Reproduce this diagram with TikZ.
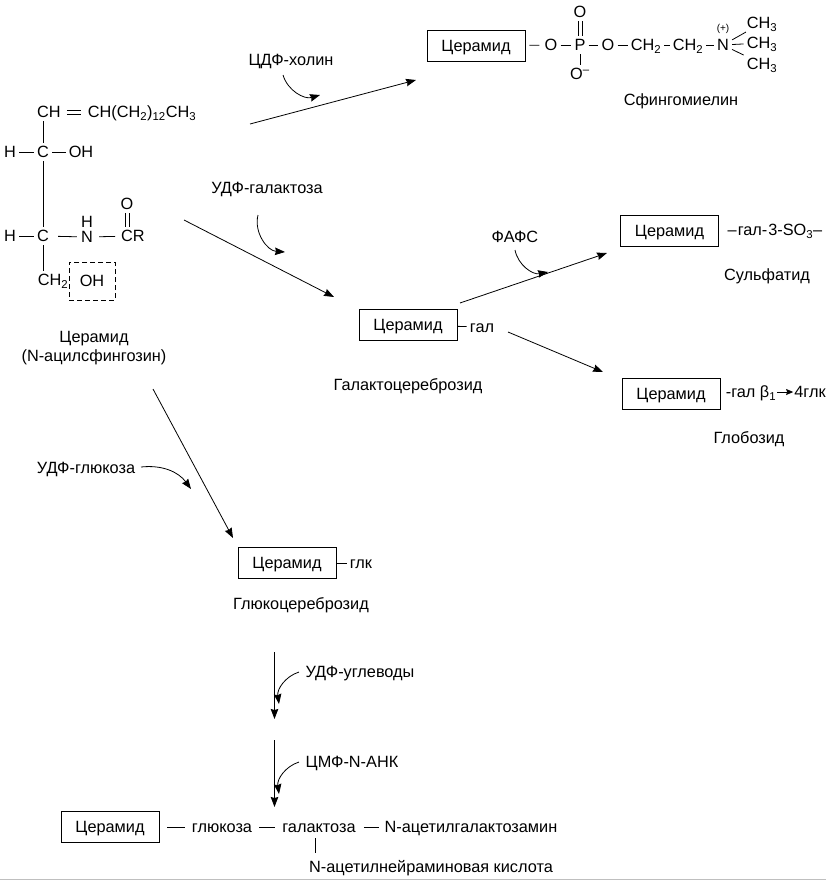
\documentclass[tikz,border=0pt]{standalone}
\usepackage{fontspec}
\setmainfont{Liberation Sans}
\usetikzlibrary{arrows.meta,positioning}
\tikzset{
	lbl/.style={inner sep=3pt,text height=11.7pt,text depth=0pt,font=\fontsize{16.3}{18}\selectfont},
	cerbox/.style={lbl,draw,line width=0.8pt,minimum width=98pt,minimum height=31pt},
	bond/.style={line width=0.8pt},
	arr/.style={line width=0.8pt,-{Stealth[length=10pt,width=7.5pt,inset=1pt]}},
	tinyarr/.style={line width=0.8pt,-{Stealth[length=7pt,width=6pt,inset=1pt]}}
}
\begin{document}
\begin{tikzpicture}[x=1pt,y=-1pt]
		\useasboundingbox (0,0) rectangle (826,881);

		% ceramide formula
		\draw (49,112) node[lbl] (ch) {CH};
		\draw (142,112) node[lbl] (chain) {CH(CH\textsubscript{2})\textsubscript{12}CH\textsubscript{3}};
		\draw (43,152) node[lbl] (c1) {C};
		\draw (10,152) node[lbl] (h1) {H};
		\draw (81,152) node[lbl] (oh1) {OH};
		\draw (43,236) node[lbl] (c2) {C};
		\draw (10,236) node[lbl] (h2) {H};
		\draw (87,237) node[lbl,inner sep=1pt] (n1) {N};
		\draw (87,222) node[lbl,inner sep=1pt] (h3) {H};
		\draw (133,236) node[lbl] (cr) {CR};
		\draw (127,204) node[lbl] (o1) {O};
		\draw (53,280) node[lbl] (ch2) {CH\textsubscript{2}};
		\draw (92,281) node[lbl,draw,dash pattern=on 5pt off 3pt,line width=0.8pt,minimum width=46pt,minimum height=38pt] (oh2) {OH};
		\draw (94,337) node[lbl] (cername) {Церамид};
		\draw (94,356) node[lbl] (cerfull) {(N-ацилсфингозин)};

		\draw[bond,shorten <=3pt,shorten >=4pt] ([yshift=-2pt]ch.east) -- ([yshift=-2pt]chain.west);
		\draw[bond,shorten <=3pt,shorten >=4pt] ([yshift=2pt]ch.east) -- ([yshift=2pt]chain.west);
		\draw[bond] (c1.north) -- (c1.north |- ch.south);
		\draw[bond] (h1) -- (c1);
		\draw[bond] (c1) -- (oh1);
		\draw[bond] (c1.south) -- (c2.north);
		\draw[bond] (h2) -- (c2);
		\draw[bond,shorten <=6pt,shorten >=3pt] (c2) -- (n1);
		\draw[bond,shorten <=5pt,shorten >=3pt] (n1) -- (cr);
		\draw[bond] ([xshift=-2pt]cr.north -| o1) -- ([xshift=-2pt]o1.south);
		\draw[bond] ([xshift=2pt]cr.north -| o1) -- ([xshift=2pt]o1.south);
		\draw[bond] (c2.south) -- (c2.south |- ch2.north);

		% sphingomyelin
		\draw (476,46) node[cerbox] (cer1) {Церамид};
		\draw (551,45) node[lbl] (o2) {O};
		\draw (580,45) node[lbl] (p) {P};
		\draw (580,12) node[lbl] (o3) {O};
		\draw (580,74) node[lbl] (o4) {O\textsuperscript{--}};
		\draw (608,45) node[lbl] (o5) {O};
		\draw (646,45) node[lbl] (ch2a) {CH\textsubscript{2}};
		\draw (688,45) node[lbl] (ch2b) {CH\textsubscript{2}};
		\draw (723,45) node[lbl] (n2) {N};
		\draw (723,29) node[inner sep=0pt,font=\fontsize{10}{11}\selectfont] (plus) {(+)};
		\draw (762,23) node[lbl] (me1) {CH\textsubscript{3}};
		\draw (762,43) node[lbl] (me2) {CH\textsubscript{3}};
		\draw (762,64) node[lbl] (me3) {CH\textsubscript{3}};
		\draw (681,100) node[lbl] (sm) {Сфингомиелин};

		\draw[bond,shorten <=4pt,shorten >=2pt] (cer1) -- (o2);
		\draw[bond] (o2) -- (p);
		\draw[bond] (p) -- (o5);
		\draw[bond] ([xshift=-2pt]o3.south) -- ([xshift=-2pt]p.north);
		\draw[bond] ([xshift=2pt]o3.south) -- ([xshift=2pt]p.north);
		\draw[bond] (p) -- (o4.north -| p);
		\draw[bond] (o5) -- (ch2a);
		\draw[bond] (ch2a) -- (ch2b);
		\draw[bond] (ch2b) -- (n2);
		\draw[bond] (n2) -- (me1);
		\draw[bond] (n2) -- (me2);
		\draw[bond] (n2) -- (me3);

		% galactocerebroside branch
		\draw (408,325) node[cerbox] (cer2) {Церамид};
		\draw (482,327) node[lbl] (gal) {гал};
		\draw (408,385) node[lbl] (galname) {Галактоцереброзид};
		\draw[bond] (cer2) -- (gal);

		\draw (669.5,231) node[cerbox] (cer3) {Церамид};
		\draw (775,230) node[lbl] (sulf) {–\hspace{1pt}гал-\hspace{1pt}3-SO\textsubscript{3}–};
		\draw (767,275) node[lbl] (sulfname) {Сульфатид};

		\draw (671,394) node[cerbox] (cer4) {Церамид};
		\draw (751,392) node[lbl,inner sep=1pt] (glob) {-гал β\textsubscript{1}};
		\draw (810,392) node[lbl,inner sep=1pt] (glk4) {4глк};
		\draw (749,438) node[lbl] (globname) {Глобозид};
		\path[tinyarr] (glob) edge (glk4);

		% glucocerebroside and ganglioside
		\draw (287,563) node[cerbox] (cer5) {Церамид};
		\draw (361,563) node[lbl] (glk) {глк};
		\draw (301,604) node[lbl] (glkname) {Глюкоцереброзид};
		\draw[bond] (cer5) -- (glk);

		\draw (110,827) node[cerbox] (cer6) {Церамид};
		\draw (222,827) node[lbl] (glc) {глюкоза};
		\draw (319,827) node[lbl] (galact) {галактоза};
		\draw (471,827) node[lbl] (galnac) {N-ацетилгалактозамин};
		\draw (431,867) node[lbl] (nana) {N-ацетилнейраминовая кислота};
		\draw[bond,shorten <=8pt,shorten >=4pt] (cer6) -- (glc);
		\draw[bond,shorten <=4pt,shorten >=4pt] (glc) -- (galact);
		\draw[bond,shorten <=5pt,shorten >=3pt] (galact) -- (galnac);
		\coordinate (v1) at (315,838);
		\coordinate (v2) at (315,853);
		\draw[bond] (v1) -- (v2);

		% cofactor labels
		\draw (291,60) node[lbl] (cdp) {ЦДФ-холин};
		\draw (267,188) node[lbl] (udpgal) {УДФ-галактоза};
		\draw (515,237) node[lbl] (paps) {ФАФС};
		\draw (86,468) node[lbl] (udpglc) {УДФ-глюкоза};
		\draw (360,672) node[lbl] (udpsug) {УДФ-углеводы};
		\draw (352,762) node[lbl] (cmp) {ЦМФ-N-АНК};

		% ends of the free arrows
		\coordinate (a1s) at (250,124);
		\coordinate (a1e) at (416,80);
		\coordinate (a2s) at (184,220);
		\coordinate (a2e) at (334,297);
		\coordinate (a3s) at (460,303);
		\coordinate (a3e) at (607,253);
		\coordinate (a4s) at (508,332);
		\coordinate (a4e) at (603,372);
		\coordinate (a5s) at (153,389);
		\coordinate (a5e) at (233,538);
		\coordinate (a6s) at (274.5,652);
		\coordinate (a6e) at (274.5,719);
		\coordinate (a7s) at (274.5,740);
		\coordinate (a7e) at (274.5,807);

		\path[arr]
			(a1s) edge (a1e)
			(a2s) edge (a2e)
			(a3s) edge (a3e)
			(a4s) edge (a4e)
			(a5s) edge (a5e)
			(a6s) edge (a6e)
			(a7s) edge (a7e);

		% curved side arrows
		\coordinate (t1) at (320,95);
		\coordinate (t2) at (285,252);
		\coordinate (t3) at (548,272);
		\coordinate (t4) at (191,489);
		\coordinate (t5) at (279,704);
		\coordinate (t6) at (279,794);

		\path[arr]
			(283,75) coordinate (c1s) edge [bend right=45] (t1)
			(258,215) coordinate (c2s) edge [bend right=50] (t2)
			(515,250) coordinate (c3s) edge [bend right=45] (t3)
			(141,467) coordinate (c4s) edge [bend left=30] (t4)
			(299,672) coordinate (c5s) edge [bend right=40] (t5)
			(299,762) coordinate (c6s) edge [bend right=40] (t6);

		% bottom edge of the page
		\coordinate (e1) at (0,879.5);
		\coordinate (e2) at (826,879.5);
		\draw[gray!50,line width=1pt] (e1) -- (e2);
\end{tikzpicture}
\end{document}
